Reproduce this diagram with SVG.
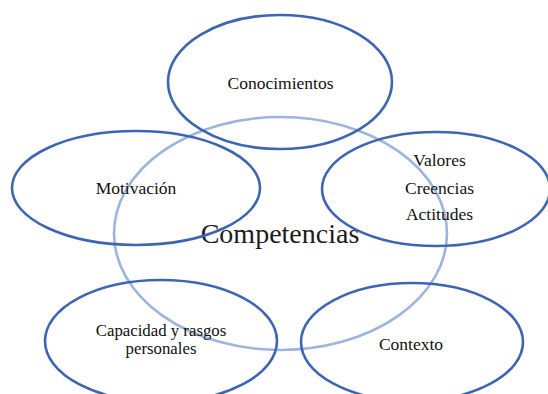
<svg xmlns="http://www.w3.org/2000/svg" width="548" height="394" viewBox="0 0 548 394">
<style>
.bg{fill:#ffffff}
.core{fill:none;stroke:#9db4dc;stroke-width:2.6}
.el{fill:none;stroke:#3d65b3;stroke-width:2.6}
.t{font-family:"Liberation Serif","Times New Roman",serif;font-size:17.5px;fill:#111;text-anchor:middle}
.t2{font-size:16.8px}
.big{font-family:"Liberation Serif","Times New Roman",serif;font-size:28px;fill:#1c1c1c;text-anchor:middle}
</style>
<rect class="bg" x="0" y="0" width="548" height="394"/>
<g id="competencias">
<ellipse class="core" cx="280.5" cy="233.5" rx="166.5" ry="116.5"/>
<text class="big" x="280" y="242.5">Competencias</text>
</g>
<g id="connectors"></g>
<g id="conocimientos">
<ellipse class="el" cx="280" cy="82" rx="112" ry="67"/>
<text class="t" x="280.5" y="88.5">Conocimientos</text>
</g>
<g id="motivacion">
<ellipse class="el" cx="136" cy="188" rx="124" ry="57"/>
<text class="t" x="136" y="193.5">Motivación</text>
</g>
<g id="valores">
<ellipse class="el" cx="436" cy="189" rx="114" ry="57"/>
<text class="t" x="439.5" y="166">Valores</text>
<text class="t" x="439.5" y="193.5">Creencias</text>
<text class="t" x="439.5" y="220">Actitudes</text>
</g>
<g id="capacidad">
<ellipse class="el" cx="161" cy="341" rx="116" ry="61"/>
<text class="t t2" x="161" y="335.5">Capacidad y rasgos</text>
<text class="t t2" x="161" y="354">personales</text>
</g>
<g id="contexto">
<ellipse class="el" cx="412" cy="342" rx="111" ry="59"/>
<text class="t" x="411" y="350">Contexto</text>
</g>
</svg>
